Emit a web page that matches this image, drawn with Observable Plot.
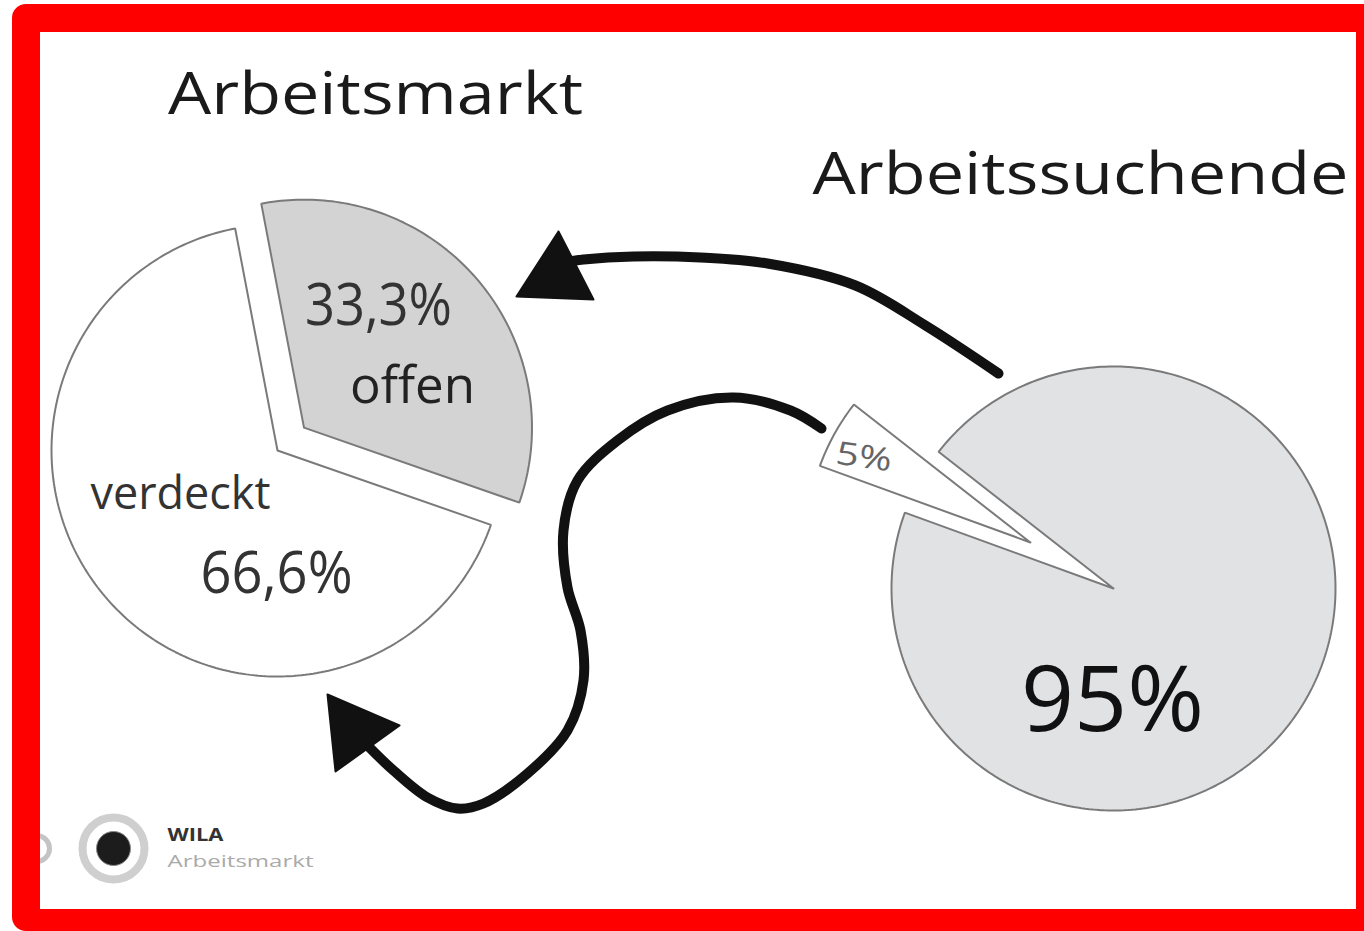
<!DOCTYPE html>
<html>
<head>
<meta charset="utf-8">
<script src="https://cdn.jsdelivr.net/npm/d3@7"></script>
<script src="https://cdn.jsdelivr.net/npm/@observablehq/plot@0.6"></script>
<style>
  html, body { margin: 0; padding: 0; background: #fff; }
  #wrap { position: relative; width: 1364px; height: 931px; overflow: hidden; background: #fff; }
  #chart { position: absolute; left: 0; top: 0; }
  #frame { position: absolute; left: 12px; top: 4px; width: 1352px; height: 927px; box-sizing: border-box;
           border-style: solid; border-color: #ff0000; border-width: 28px 8px 22px 28px;
           border-radius: 14px 0 0 14px; pointer-events: none; }
</style>
</head>
<body>
<div id="wrap"><div id="chart"></div><div id="frame"></div></div>
<script>
// ---------- data ----------
const titles = ["Arbeitsmarkt", "Arbeitssuchende"];
const marketCategories = ["offen", "verdeckt"];
const marketValues = [33.3, 66.6];
const marketValueLabels = ["33,3%", "66,6%"];
const seekerCategories = ["5%", "95%"];
const seekerValues = [5, 95];
const seekerValueLabels = ["5%", "95%"];
const logoTexts = ["WILA", "Arbeitsmarkt"];

// ---------- layout ----------
const W = 1364, H = 931;
const leftPie = { cx: 277, cy: 450, start: -10.8, explode: [35, 0], radius: [228, 226],
                  fill: ["#d3d3d3", "#ffffff"] };
const rightPie = { cx: 1113, cy: 588, start: 290, explode: [95, 0], radius: [224, 222],
                   fill: ["#ffffff", "#e1e2e4"] };

function pieSlices(def, values, names) {
  const a0 = def.start * Math.PI / 180;
  const arcs = d3.pie().sort(null).startAngle(a0).endAngle(a0 + 2 * Math.PI)(values);
  return arcs.map((a, i) => {
    const mid = (a.startAngle + a.endAngle) / 2;
    const ox = def.cx + def.explode[i] * Math.sin(mid);
    const oy = def.cy - def.explode[i] * Math.cos(mid);
    const r = def.radius[i];
    const n = Math.max(4, Math.ceil((a.endAngle - a.startAngle) / (Math.PI / 180)));
    const pts = [{ key: names[i], x: ox, y: oy }];
    for (let k = 0; k <= n; k++) {
      const t = a.startAngle + (a.endAngle - a.startAngle) * k / n;
      pts.push({ key: names[i], x: ox + r * Math.sin(t), y: oy - r * Math.cos(t) });
    }
    pts.push({ key: names[i], x: ox, y: oy });
    return { pts, fill: def.fill[i] };
  });
}

const leftSlices = pieSlices(leftPie, marketValues, marketCategories);
const rightSlices = pieSlices(rightPie, seekerValues, seekerCategories);

// annotation arrows (decorative)
const arrow1 = [[998,373],[925,325],[855,285],[767,263],[700,257],[633,256],[583,259],[562,262]]
  .map(([x, y]) => ({ x, y }));
const arrow1Head = [[558,231],[516,296],[593,299],[558,231]].map(([x, y]) => ({ x, y }));
const arrow2 = [[821,428],[790,410],[733,397],[667,410],[617,440],[577,480],[563,530],[567,587],[580,630],
                [583,680],[567,730],[527,773],[483,803],[457,808],[427,797],[393,770],[368,746]]
  .map(([x, y]) => ({ x, y }));
const arrow2Head = [[327,694],[399,725],[335,771],[327,694]].map(([x, y]) => ({ x, y }));

// text layout: x, baseline y, size, target width
const textLayout = [
  { text: titles[0], x: 375, y: 113, size: 58, width: 415, fill: "#1a1a1a" },
  { text: titles[1], x: 1080, y: 193, size: 58, width: 536, fill: "#1a1a1a" },
  { text: marketValueLabels[0], x: 378, y: 324, size: 58, width: 147, fill: "#333" },
  { text: marketCategories[0], x: 412, y: 402, size: 52, width: 125, fill: "#222" },
  { text: marketCategories[1], x: 180, y: 508, size: 46, width: 180, fill: "#333" },
  { text: marketValueLabels[1], x: 276, y: 592, size: 58, width: 152, fill: "#333" },
  { text: seekerValueLabels[1], x: 1112, y: 730, size: 92, width: 183, fill: "#111" },
  { text: seekerValueLabels[0], x: 862, y: 467, size: 32, width: 56, fill: "#666", rotate: 8 },
  { text: logoTexts[0], x: 167, y: 840, size: 18, width: 56, fill: "#333", weight: "bold", anchor: "start" },
  { text: logoTexts[1], x: 167, y: 866, size: 17, width: 146, fill: "#aaa", anchor: "start" }
];

const sliceMarks = (slices) => slices.map(s =>
  Plot.line(s.pts, { x: "x", y: "y", fill: s.fill, stroke: "#7a7a7a", strokeWidth: 2, strokeLinejoin: "miter" }));

const textMarks = textLayout.map(t =>
  Plot.text([t], { x: "x", y: "y", text: "text", fontSize: t.size, fontFamily: "Open Sans",
    fontWeight: t.weight || "normal", fill: t.fill, textAnchor: t.anchor || "middle",
    lineAnchor: "bottom", rotate: t.rotate || 0 }));

const chart = Plot.plot({
  width: W, height: H, margin: 0,
  x: { domain: [0, W], range: [0, W], axis: null },
  y: { domain: [0, H], range: [0, H], axis: null },
  style: { background: "white", fontFamily: "Open Sans", overflow: "visible" },
  marks: [
    ...sliceMarks(leftSlices),
    ...sliceMarks(rightSlices),
    Plot.line(arrow1, { x: "x", y: "y", curve: "catmull-rom", stroke: "#111", strokeWidth: 10 }),
    Plot.line(arrow1Head, { x: "x", y: "y", fill: "#111", stroke: "#111", strokeWidth: 2 }),
    Plot.line(arrow2, { x: "x", y: "y", curve: "catmull-rom", stroke: "#111", strokeWidth: 10 }),
    Plot.line(arrow2Head, { x: "x", y: "y", fill: "#111", stroke: "#111", strokeWidth: 2 }),
    // logo
    Plot.dot([{ x: 36, y: 848 }], { x: "x", y: "y", r: 13, stroke: "#c4c4c4", strokeWidth: 5, fill: "none" }),
    Plot.dot([{ x: 113, y: 848 }], { x: "x", y: "y", r: 31, stroke: "#cfcfcf", strokeWidth: 8, fill: "none" }),
    Plot.dot([{ x: 113, y: 848 }], { x: "x", y: "y", r: 17, fill: "#1c1c1c", stroke: "#888", strokeWidth: 1 }),
    ...textMarks
  ]
});

chart.querySelectorAll("text").forEach((el, i) => {
  const L = textLayout[i];
  if (L && L.width) {
    el.setAttribute("textLength", L.width);
    el.setAttribute("lengthAdjust", "spacingAndGlyphs");
  }
});

document.getElementById("chart").appendChild(chart);
</script>
</body>
</html>
